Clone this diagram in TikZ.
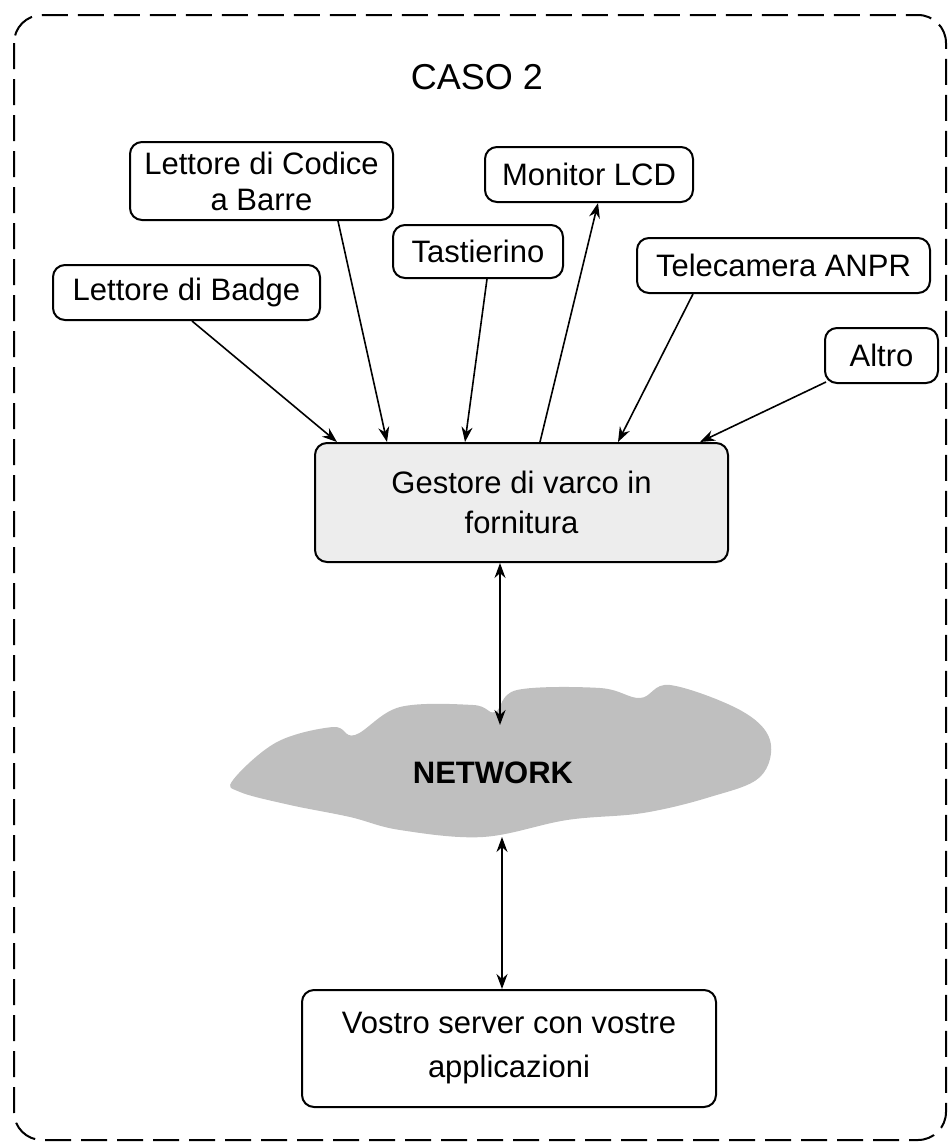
\documentclass[tikz,border=0pt]{standalone}
\usepackage{fontspec}
\setmainfont{Liberation Sans}
\usetikzlibrary{arrows.meta}
\begin{document}
\begin{tikzpicture}[x={(1pt,0pt)}, y={(0pt,-1pt)},
  box/.style={draw, line width=2pt, rounded corners=12pt, inner sep=0pt, align=center,
              font=\fontsize{31}{36}\selectfont},
  conn/.style={line width=1.6pt, -{Stealth[length=15pt,width=11pt]}},
  biconn/.style={line width=1.6pt, {Stealth[length=15pt,width=11pt]}-{Stealth[length=15pt,width=11pt]}},
  cloudfill/.style={fill=black!25}]
\useasboundingbox (0,0) rectangle (949,1146);
\draw[line width=2pt, dash pattern=on 26pt off 10pt, rounded corners=28pt] (14,15) rectangle (946,1140);
\node[font=\fontsize{36}{40}\selectfont] (title) at (477,77) {CASO 2};
\node[box, minimum width=263pt, minimum height=78pt] (codice) at (261.5,181) {Lettore di Codice\\a Barre};
\node[box, minimum width=267pt, minimum height=55pt] (badge) at (186.5,292.5) {Lettore di Badge};
\node[box, minimum width=170pt, minimum height=53pt] (tast) at (478,251.5) {Tastierino};
\node[box, minimum width=208pt, minimum height=55pt] (mon) at (589,174.5) {Monitor LCD};
\node[box, minimum width=293pt, minimum height=55pt] (tele) at (783.5,265.5) {Telecamera ANPR};
\node[box, minimum width=113pt, minimum height=55pt] (altro) at (881.5,355.5) {Altro};
\node[box, fill=black!7, minimum width=413pt, minimum height=119pt,
      font=\fontsize{31}{40}\selectfont] (gest) at (521.5,502.5) {Gestore di varco in\\fornitura};
\fill[cloudfill] plot[smooth cycle, tension=0.6] coordinates {
  (233,780) (277,742) (333,727) (355,735) (400,707) (473,705) (495,712)
  (517,690) (600,688) (640,698) (670,685) (740,710) (770,740) (760,777)
  (710,797) (643,813) (567,820) (483,837) (400,830) (350,817) (290,805) (240,792)};
\node[font=\bfseries\fontsize{31}{36}\selectfont] (net) at (493,773) {NETWORK};
\coordinate (netN) at (500,725);
\coordinate (netS) at (502,837);
\node[box, minimum width=414pt, minimum height=117pt,
      font=\fontsize{31}{44}\selectfont] (server) at (509,1048.5) {Vostro server con vostre\\applicazioni};
\draw[conn] ([xshift=5.5pt]badge.south) -- ([xshift=-184.5pt]gest.north);
\draw[conn] ([xshift=76.5pt]codice.south) -- ([xshift=-134.5pt]gest.north);
\draw[conn] ([xshift=9pt]tast.south) -- ([xshift=-56.5pt]gest.north);
\draw[conn] ([xshift=18.5pt]gest.north) -- ([xshift=9pt]mon.south);
\draw[conn] ([xshift=-90.5pt]tele.south) -- ([xshift=96.5pt]gest.north);
\draw[conn] ([xshift=2pt,yshift=2pt]altro.south west) -- ([xshift=178.5pt]gest.north);
\draw[biconn] ([xshift=-21.5pt]gest.south) -- (netN);
\draw[biconn] (netS) -- ([xshift=-7pt]server.north);
\end{tikzpicture}
\end{document}
